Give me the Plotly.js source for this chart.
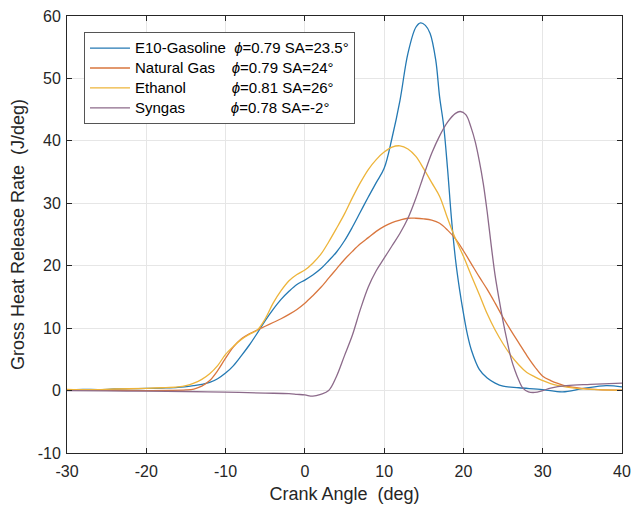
<!DOCTYPE html>
<html>
<head>
<meta charset="utf-8">
<script src="https://cdn.plot.ly/plotly-3.0.1.min.js"></script>
<style>html,body{margin:0;padding:0;background:#fff}</style>
</head>
<body>
<div id="chart" style="width:634px;height:507px"></div>
<script>
// E10-Gasoline
const e10X = [-30,-28,-26,-24,-22,-20,-18,-16,-14,-13,-12,-11,-10,-9,-8,-7,-6,-5,-4,-3,-2,-1,0,1,2,3,4,5,6,7,8,9,10,11,12,13,14,14.6,15.2,15.8,16.5,17,17.5,18,18.5,19,19.5,20,20.5,21,22,23,24,25,27,30,32.5,35,38,40];
const e10Y = [0.1,0.2,0.15,0.25,0.3,0.35,0.4,0.5,0.8,1.0,1.3,1.9,2.8,4.0,5.6,7.3,9.2,11.2,13.0,14.6,15.9,17.0,17.7,18.5,19.5,20.8,22.2,24.0,26.2,28.6,31.0,33.3,35.6,40.5,46.5,54.0,58.2,58.9,58.5,57.2,53.0,47.0,42.5,35.5,27.4,21.0,16.3,12.4,9.0,6.5,3.4,2.0,1.2,0.7,0.45,0.16,-0.2,0.3,0.8,0.6];
// Natural Gas
const ngX = [-30,-27,-24,-20,-17,-15,-14,-13,-12,-11,-10,-9,-8,-7,-6,-5,-4,-3,-2,-1,0,1,2,3,4,5,6,7,8,9,10,11,12,13,14,15,16,17,18,19,20,21,22,23,24,25,26,27,28,29,30,31,32,33,35,37,40];
const ngY = [0.15,0.1,0.05,0,0.02,0.1,0.25,0.7,1.6,3.2,5.2,7.0,8.3,9.1,9.7,10.3,10.9,11.5,12.2,13.0,14.0,15.2,16.5,18.0,19.5,21.0,22.3,23.5,24.5,25.5,26.3,26.9,27.3,27.6,27.6,27.5,27.3,26.8,25.7,24.3,22.4,20.3,18.2,16.2,14.0,11.7,9.6,7.6,5.6,3.8,2.3,1.6,1.1,0.7,0.35,0.15,0.05];
// Ethanol
const ethX = [-30,-27,-24,-20,-18,-16,-15,-14,-13,-12,-11,-10,-9,-8,-7,-6,-5,-4,-3,-2,-1,0,1,2,3,4,5,6,7,8,9,10,11,12,13,14,15,16,17,18,19,20,21,22,23,24,25,26,27,28,29,30,31,32,34,37,40];
const ethY = [0.2,0.15,0.25,0.35,0.45,0.6,0.8,1.2,1.8,2.7,4.0,5.8,7.1,8.2,9.0,9.7,11.5,14.0,16.0,17.6,18.6,19.3,20.4,21.8,23.8,26.0,28.3,30.9,33.3,35.4,37.0,38.2,39.0,39.2,38.7,37.5,35.5,33.3,31.1,27.6,24.3,21.5,18.4,15.4,12.3,9.7,7.5,5.6,4.1,2.9,2.2,1.6,1.1,0.8,0.4,0.15,0.05];
// Syngas
const synX = [-30,-25,-20,-15,-10,-5,-2,-1,0,1,2,3,4,5,6,7,8,9,10,11,12,13,14,15,16,17,18,19,19.6,20.3,21,21.5,22,22.5,23,23.5,24,24.5,25,25.5,26,26.5,27,27.5,28.2,29,30,31,33,36,40];
const synY = [0,-0.05,-0.1,-0.15,-0.25,-0.4,-0.5,-0.6,-0.7,-0.9,-0.6,0.0,2.3,5.6,8.9,13.0,16.6,19.2,21.2,23.2,25.2,27.6,30.8,34.5,38.0,40.8,43.0,44.4,44.7,44.2,42.0,39.8,36.8,33.2,28.6,23.3,18.4,14.6,11.1,8.0,5.2,3.2,1.6,0.4,-0.2,-0.3,0.0,0.4,0.8,1.0,1.2];

const names = [
  "E10-Gasoline\u00a0\u00a0<i>\u03d5</i>=0.79 SA=23.5\u00b0",
  "Natural Gas\u00a0\u00a0\u00a0\u00a0<i>\u03d5</i>=0.79 SA=24\u00b0",
  "Ethanol\u00a0\u00a0\u00a0\u00a0\u00a0\u00a0\u00a0\u00a0\u00a0\u00a0\u00a0<i>\u03d5</i>=0.81 SA=26\u00b0",
  "Syngas\u00a0\u00a0\u00a0\u00a0\u00a0\u00a0\u00a0\u00a0\u00a0\u00a0\u00a0<i>\u03d5</i>=0.78 SA=-2\u00b0"
];
const xTickVals = [-30,-20,-10,0,10,20,30,40];
const xTickText = ["-30","-20","-10","0","10","20","30","40"];
const yTickVals = [-10,0,10,20,30,40,50,60];
const yTickText = ["-10","0","10","20","30","40","50","60"];
const colors = ["#2479B3", "#D9763E", "#EDB43A", "#8C6A8A"];

const xs = [e10X, ngX, ethX, synX];
const ys = [e10Y, ngY, ethY, synY];
const traces = xs.map((x, i) => ({
  x: x, y: ys[i], type: 'scatter', mode: 'lines',
  name: '<span style="font-size:15px">' + names[i] + '</span>',
  line: {color: colors[i], width: 1.3, shape: 'spline', smoothing: 1}
}));

const axisCommon = {
  showline: true, linecolor: '#262626', linewidth: 1, mirror: 'ticks',
  ticks: 'inside', ticklen: 5, tickcolor: '#262626',
  showgrid: true, gridcolor: '#e6e6e6', gridwidth: 1,
  zeroline: false, tickfont: {size: 16, color: '#262626'}, tickmode: 'array'
};

const layout = {
  width: 634, height: 507,
  margin: {l: 67, r: 12, t: 16, b: 54},
  paper_bgcolor: '#fff', plot_bgcolor: '#fff',
  font: {family: 'Liberation Sans, Arial, sans-serif', color: '#262626'},
  xaxis: Object.assign({}, axisCommon, {range: [-30, 40], tickvals: xTickVals, ticktext: xTickText,
    ticklabelstandoff: 4,
    title: {text: 'Crank Angle  (deg)', font: {size: 18, color: '#262626'}, standoff: 8}}),
  yaxis: Object.assign({}, axisCommon, {range: [-10, 60], tickvals: yTickVals, ticktext: yTickText,
    ticklabelstandoff: 2,
    title: {text: 'Gross Heat Release Rate  (J/deg)', font: {size: 18, color: '#262626'}, standoff: 8}}),
  showlegend: true,
  legend: {x: 0.0306, y: 0.963, xanchor: 'left', yanchor: 'top',
    bgcolor: '#fff', bordercolor: '#555', borderwidth: 1,
    font: {size: 13, color: '#000'}, itemwidth: 40, tracegroupgap: 0}
};

Plotly.newPlot('chart', traces, layout, {staticPlot: true});
</script>
</body>
</html>
